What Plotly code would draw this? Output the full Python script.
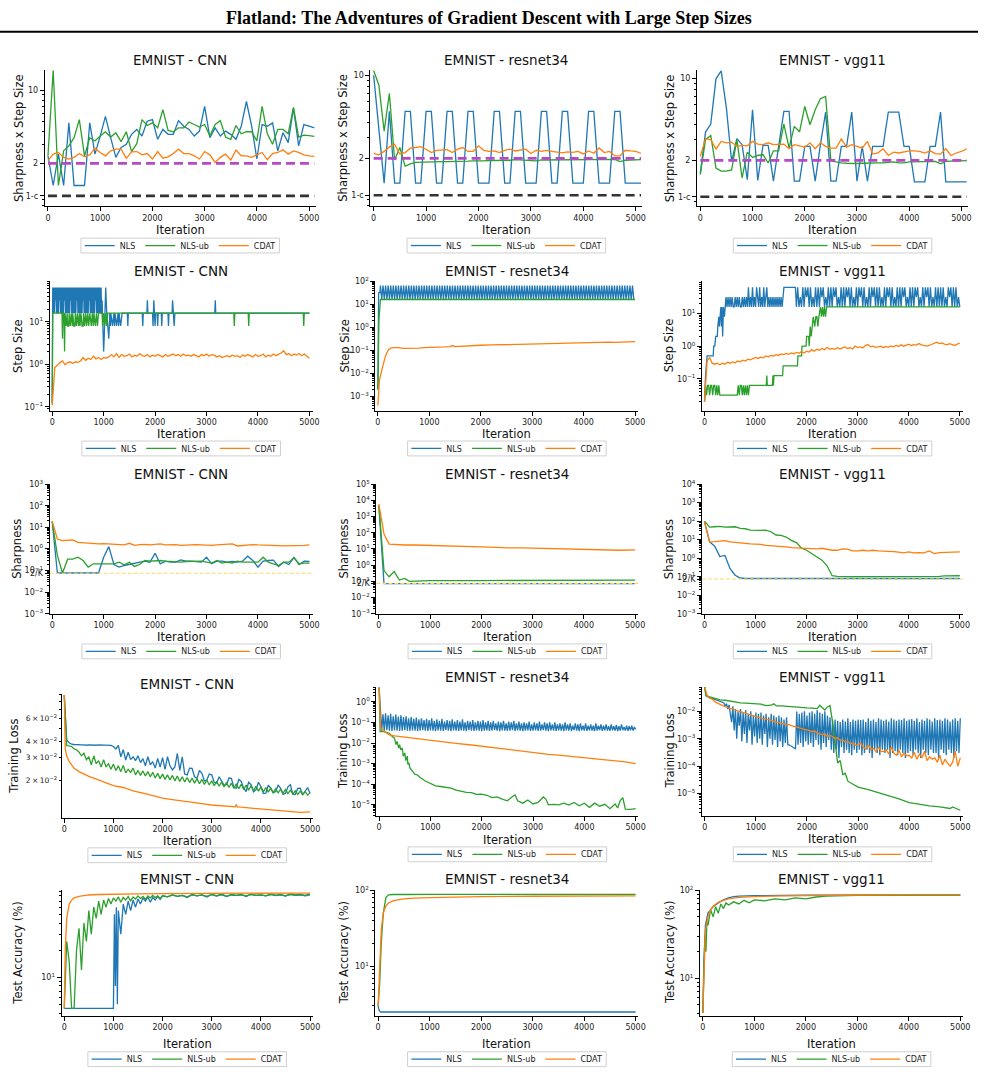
import math
import plotly.graph_objects as go

W, H = 985, 1082
FONT = "DejaVu Sans"
BLUE, GREEN, ORANGE = "#1f77b4", "#2ca02c", "#ff7f0e"
SERIES_NAMES = ["NLS", "NLS-ub", "CDAT"]
SERIES_COLORS = [BLUE, GREEN, ORANGE]
MODELS = ["CNN", "resnet34", "vgg11"]
Y_LABELS = ["Sharpness x Step Size", "Step Size", "Sharpness", "Training Loss", "Test Accuracy (%)"]
X_LABEL = "Iteration"
ITER_TICKS = [0, 1000, 2000, 3000, 4000, 5000]
MAIN_TITLE = "Flatland: The Adventures of Gradient Descent with Large Step Sizes"

ONE_MINUS_C = 0.98
EOS_LEVEL = 2
TWO_OVER_K = 0.075

# ---------------- Row 1: Sharpness x Step Size ----------------
R1_ITER = list(range(0, 5200, 100))
R1_CNN_NLS = [2.36, 1.23, 2.45, 1.23, 4.86, 1.23, 1.23, 1.23, 4.86, 2.45,
              3.64, 5.61, 3.51, 2.28, 2.83, 3.04, 3.78, 4.21, 3.64, 5.04,
              5.22, 3.39, 4.21, 3.78, 3.78, 5.11, 4.52, 4.21, 3.64, 4.06,
              6.97, 3.51, 4.36, 3.64, 4.06, 3.78, 3.39, 4.52, 7.77, 4.52,
              2.2, 4.69, 4.52, 4.86, 2.63, 3.91, 3.15, 6.73, 2.93, 4.69,
              4.52, 4.36]
R1_CNN_NLSUB = [2.36, 15.4, 1.23, 2.63, 2.93, 3.51, 5.22, 2.36, 3.51, 3.27,
                3.64, 4.0, 3.56, 3.91, 3.22, 4.0, 2.59, 3.08, 5.22, 4.59,
                4.86, 4.36, 6.49, 4.12, 4.0, 4.36, 4.36, 4.96, 4.69, 4.43,
                4.69, 3.64, 4.69, 5.11, 3.56, 3.39, 4.59, 3.83, 4.0, 4.0,
                3.27, 6.97, 3.83, 3.04, 4.21, 4.21, 3.83, 6.82, 3.56, 3.72,
                3.67, 3.61]
R1_CNN_CDAT = [2.12, 2.45, 2.54, 2.28, 2.2, 2.28, 2.48, 2.31, 2.41, 2.79,
               2.54, 2.36, 2.63, 2.73, 2.73, 2.23, 2.57, 2.59, 2.41, 2.48,
               2.2, 2.59, 2.24, 2.31, 2.48, 2.73, 2.48, 2.48, 2.36, 2.2,
               2.59, 2.41, 2.04, 2.28, 2.45, 2.15, 2.67, 2.36, 2.36, 2.28,
               2.41, 2.54, 2.17, 2.48, 2.54, 2.69, 2.45, 2.63, 2.54, 2.41,
               2.36, 2.33]
R1_RES_NLS = [10, 3.5, 1.24, 4.97, 1.24, 1.24, 4.97, 4.97, 1.24, 1.24,
              4.97, 4.97, 1.24, 1.24, 4.97, 4.97, 1.24, 1.24, 4.97, 4.97,
              1.24, 1.24, 1.24, 4.97, 4.97, 1.24, 1.24, 4.97, 4.97, 1.24,
              1.24, 1.24, 4.97, 4.97, 1.24, 1.24, 4.97, 4.97, 1.24, 1.24,
              1.24, 4.97, 4.97, 1.24, 1.24, 1.24, 4.97, 4.97, 1.24, 1.24,
              1.24, 1.24]
R1_RES_NLSUB = [11, 8.26, 3.39, 7.04, 1.94, 2.47, 1.72, 1.8, 1.85, 1.86,
                1.87, 1.87, 1.88, 1.88, 1.88, 1.88, 1.89, 1.9, 1.9, 1.91,
                1.9, 1.91, 1.92, 1.92, 1.92, 1.93, 1.93, 1.95, 1.94, 1.95,
                1.93, 1.91, 1.94, 1.94, 1.94, 1.94, 1.94, 1.95, 1.95, 1.94,
                1.95, 1.94, 1.95, 1.95, 1.95, 1.95, 1.96, 1.88, 1.93, 1.94,
                1.95, 1.95]
R1_RES_CDAT = [2.2, 2.14, 2.29, 2.5, 2.63, 2.18, 2.24, 2.44, 2.47, 2.51,
               2.39, 2.24, 2.34, 2.34, 2.37, 2.24, 2.39, 2.47, 2.29, 2.29,
               2.55, 2.34, 2.29, 2.31, 2.24, 2.34, 2.39, 2.31, 2.34, 2.39,
               2.2, 2.34, 2.29, 2.34, 2.29, 2.27, 2.23, 2.27, 2.25, 2.29,
               2.18, 2.31, 2.21, 2.45, 2.24, 2.29, 2.1, 2.1, 2.34, 2.31,
               2.29, 2.21]
R1_VGG_NLS = [1.56, 3.48, 4.07, 9.88, 11.56, 5.57, 1.96, 3.06, 2.72, 1.37,
              5.39, 1.35, 2.68, 2.68, 1.33, 2.68, 5.22, 5.22, 1.33, 1.33,
              2.63, 2.63, 1.33, 2.72, 5.15, 1.33, 1.33, 2.63, 2.63, 5.15,
              1.33, 2.63, 1.33, 2.63, 2.63, 2.63, 5.15, 5.15, 5.15, 2.63,
              2.63, 1.31, 1.31, 1.31, 2.63, 2.63, 5.15, 1.31, 1.31, 1.31,
              1.31, 1.31]
R1_VGG_NLSUB = [1.51, 3.0, 3.26, 1.72, 1.62, 1.62, 1.66, 3.0, 1.42, 2.35,
                2.12, 2.2, 2.24, 1.9, 2.41, 2.41, 4.07, 2.55, 3.89, 3.5,
                5.75, 4.02, 5.39, 6.69, 7.0, 1.99, 1.94, 1.9, 1.89, 1.88,
                1.88, 1.89, 1.9, 1.89, 1.9, 1.9, 1.91, 1.94, 1.9, 1.9,
                1.94, 1.94, 1.95, 1.94, 1.96, 1.96, 1.87, 1.96, 1.97, 1.97,
                1.99, 1.99]
R1_VGG_CDAT = [2.16, 3.06, 3.0, 2.5, 2.9, 2.82, 2.86, 2.63, 2.68, 2.66,
               2.9, 2.75, 2.72, 2.82, 2.72, 2.75, 2.75, 2.51, 2.72, 2.66,
               2.58, 2.82, 2.51, 2.82, 2.63, 2.54, 2.54, 3.04, 2.59, 2.72,
               2.63, 2.54, 2.9, 2.26, 2.31, 2.51, 2.2, 2.35, 2.31, 2.35,
               2.41, 2.41, 2.38, 2.31, 2.41, 2.28, 2.26, 2.51, 2.2, 2.31,
               2.38, 2.5]

# ---------------- Row 2: Step Size ----------------
R2_CNN_NLS_X = list(range(0, 1000, 10)) + [
    1000, 1010, 1020, 1040, 1060, 1080, 1100, 1120, 1130, 1140,
    1170, 1200, 1210, 1220, 1250, 1280, 1290, 1300, 1330, 1360,
    1460, 1470, 1480, 1750, 1760, 1770, 1840, 1850, 1860, 1950,
    1960, 1975, 1990, 2000, 2010, 2040, 2050, 2060, 2120, 2130,
    2140, 2250, 2260, 2270, 2330, 2340, 2355, 2370, 2385, 3160,
    3170, 3180, 5000]
R2_CNN_NLS_Y = [
    0.125, 64, 16, 64, 16, 64, 32, 64, 16, 64,
    16, 64, 16, 64, 32, 64, 16, 64, 16, 64,
    16, 64, 16, 64, 32, 64, 16, 64, 16, 64,
    16, 64, 16, 64, 16, 64, 32, 64, 16, 64,
    16, 64, 16, 64, 16, 64, 16, 64, 32, 64,
    16, 64, 16, 64, 16, 64, 16, 64, 16, 64,
    32, 64, 16, 64, 16, 64, 16, 64, 16, 64,
    16, 64, 32, 64, 16, 64, 16, 64, 16, 64,
    16, 64, 16, 64, 32, 64, 16, 64, 16, 64,
    16, 64, 16, 64, 16, 64, 16, 32, 16, 8,
    2, 4, 16, 64, 16, 8, 4, 16, 8, 16,
    8, 16, 8, 16, 8, 16, 8, 16, 8, 16,
    16, 8, 16, 16, 8, 16, 16, 32, 16, 16,
    8, 32, 8, 8, 16, 16, 8, 16, 16, 8,
    16, 16, 8, 16, 16, 32, 16, 8, 16, 16,
    32, 16, 16]
R2_CNN_NLSUB_X = [0, 10, 190, 200, 210, 230, 240, 250, 270, 290,
                  300, 320, 330, 350, 370, 390, 400, 420, 440, 450,
                  470, 490, 510, 530, 540, 560, 580, 600, 610, 630,
                  650, 670, 690, 710, 730, 760, 780, 800, 810, 840,
                  860, 880, 900, 970, 980, 1000, 1020, 1040, 1060, 1080,
                  1100, 3530, 3540, 3550, 3810, 3820, 3830, 4880, 4890, 4900,
                  5000]
R2_CNN_NLSUB_Y = [0.12, 16, 16, 4, 16, 16, 2, 16, 8, 16,
                  8, 8, 16, 8, 16, 8, 16, 8, 8, 16,
                  8, 16, 8, 16, 8, 16, 8, 8, 16, 8,
                  16, 8, 16, 8, 16, 8, 16, 8, 16, 8,
                  16, 8, 16, 16, 8, 16, 8, 16, 8, 16,
                  16, 16, 8, 16, 16, 8, 16, 16, 8, 16,
                  16]
R2_ITER50 = list(range(0, 5001, 50))
R2_CNN_CDAT = [0.11, 0.85, 0.95, 1.1, 1.2, 0.98, 1.1, 1.15, 1.05, 1.15,
               1.12, 1.2, 1.45, 1.25, 1.4, 1.3, 1.55, 1.35, 1.45, 1.3,
               1.45, 1.4, 1.5, 1.7, 1.5, 1.8, 1.45, 1.7, 1.55, 1.6,
               1.75, 1.5, 1.65, 1.55, 1.8, 1.6, 1.55, 1.7, 1.5, 1.65,
               1.55, 1.7, 1.6, 1.5, 1.7, 1.55, 1.65, 1.75, 1.6, 1.7,
               1.55, 1.75, 1.6, 1.65, 1.55, 1.7, 1.6, 1.5, 1.7, 1.6,
               1.75, 1.55, 1.7, 1.65, 1.5, 1.6, 1.45, 1.55, 1.6, 1.5,
               1.65, 1.55, 1.6, 1.45, 1.65, 1.55, 1.7, 1.6, 1.5, 1.7,
               1.55, 1.6, 1.75, 1.5, 1.65, 1.55, 1.75, 1.6, 1.7, 1.85,
               2.1, 1.7, 1.8, 1.6, 1.75, 1.65, 1.8, 1.6, 1.75, 1.55,
               1.4]
R2_RES_NLS_X = [0, 15, 40] + list(range(50, 5000, 25))
R2_RES_NLS_Y = [0.002, 32, 32,
                64, 16, 64, 16, 64, 16, 64, 16, 64, 16, 64, 16, 64, 16, 64, 16, 64, 16,
                64, 16, 64, 16, 64, 16, 64, 16, 64, 16, 64, 16, 64, 16, 64, 16, 64, 16,
                64, 16, 64, 16, 64, 16, 64, 16, 64, 16, 64, 16, 64, 16, 64, 16, 64, 16,
                64, 16, 64, 16, 64, 16, 64, 16, 64, 16, 64, 16, 64, 16, 64, 16, 64, 16,
                64, 16, 64, 16, 64, 16, 64, 16, 64, 16, 64, 16, 64, 16, 64, 16, 64, 16,
                64, 16, 64, 16, 64, 16, 64, 16, 64, 16, 64, 16, 64, 16, 64, 16, 64, 16,
                64, 16, 64, 16, 64, 16, 64, 16, 64, 16, 64, 16, 64, 16, 64, 16, 64, 16,
                64, 16, 64, 16, 64, 16, 64, 16, 64, 16, 64, 16, 64, 16, 64, 16, 64, 16,
                64, 16, 64, 16, 64, 16, 64, 16, 64, 16, 64, 16, 64, 16, 64, 16, 64, 16,
                64, 16, 64, 16, 64, 16, 64, 16, 64, 16, 64, 16, 64, 16, 64, 16, 64, 16,
                64, 16, 64, 16, 64, 16, 64, 16, 64, 16, 64, 16, 64, 16, 64, 16, 64, 16]
R2_RES_NLSUB_X = [0, 20, 50, 5000]
R2_RES_NLSUB_Y = [0.002, 2, 16, 16]
R2_RES_CDAT_X = [0, 10, 30, 60, 100, 150, 200, 250, 300, 400,
                 500, 600, 700, 800, 900, 1000, 1100, 1200, 1300, 1400,
                 1450, 1500, 1600, 1700, 1800, 1900, 2000, 2200, 2400, 2600,
                 2800, 3000, 3200, 3400, 3600, 3800, 4000, 4200, 4400, 4500,
                 4600, 4800, 5000]
R2_RES_CDAT_Y = [0.0004, 0.002, 0.005, 0.01, 0.025, 0.06, 0.1, 0.125, 0.13, 0.13,
                 0.12, 0.12, 0.125, 0.125, 0.13, 0.13, 0.135, 0.14, 0.14, 0.145,
                 0.16, 0.145, 0.15, 0.155, 0.16, 0.16, 0.165, 0.17, 0.175, 0.18,
                 0.185, 0.19, 0.195, 0.2, 0.2, 0.205, 0.21, 0.215, 0.22, 0.225,
                 0.22, 0.23, 0.235]
R2_VGG_NLS_X = ([0, 20, 50, 170, 180, 200, 220, 250, 260, 280,
                 290, 300, 320, 330, 340, 355, 370, 390, 400, 420,
                 440, 460] + list(range(480, 1560, 20)) + [1555, 1780]
                + list(range(1800, 5001, 25)))
R2_VGG_NLS_Y = [0.02, 0.125, 0.5, 0.5, 1, 1, 2, 2, 4, 8,
                4, 8, 16, 4, 16, 2, 16, 8, 16, 32,
                16, 32,
                16, 32, 16, 32, 16, 16, 32, 16, 32, 16,
                32, 16, 16, 32, 16, 32, 16, 32, 16, 64,
                16, 32, 16, 64, 16, 32, 16, 64, 32, 16,
                64, 16, 32, 16, 64, 16, 32, 64, 16, 32,
                16, 32, 16, 32, 16, 32, 16, 32, 16, 32,
                16, 32, 16, 32,
                64, 64,
                16,
                64, 16, 32, 16, 64, 16, 64, 32, 64, 16, 64, 16, 32, 16, 64, 16,
                64, 16, 64, 32, 64, 16, 32, 16, 64, 16, 64, 16, 64, 32, 64, 16,
                32, 16, 64, 16, 64, 16, 64, 32, 64, 16, 64, 16, 32, 16, 64, 16,
                64, 32, 64, 16, 64, 16, 32, 16, 64, 16, 64, 32, 64, 16, 64, 16,
                64, 16, 32, 16, 64, 16, 64, 32, 64, 16, 64, 16, 32, 16, 64, 16,
                64, 16, 64, 32, 64, 16, 32, 16, 64, 16, 64, 16, 64, 32, 64, 16,
                32, 16, 64, 16, 64, 32, 64, 16, 64, 16, 32, 16, 64, 16, 64, 16,
                64, 16, 64, 16, 32, 16, 64, 32, 64, 16, 64, 16, 64, 16, 32, 16]
R2_VGG_NLSUB_X = [0, 20, 40, 60, 80, 100, 120, 140, 160, 180,
                  200, 220, 240, 260, 280, 300, 350, 640, 660, 680,
                  700, 720, 740, 760, 780, 800, 820, 840, 860, 880,
                  1210, 1220, 1230, 1330, 1340, 1350, 1360, 1530, 1540, 1820,
                  1830, 1900, 1910, 1990, 2000, 2040, 2050, 2060, 2070, 2090,
                  2110, 2130, 2160, 2180, 2200, 2220, 2240, 2270, 2290, 2310,
                  2330, 2350, 2370, 2390, 5000]
R2_VGG_NLSUB_Y = [0.02, 0.0625, 0.03125, 0.0625, 0.0625, 0.03125, 0.0625, 0.0625, 0.03125, 0.0625,
                  0.0625, 0.03125, 0.0625, 0.03125, 0.0625, 0.03125, 0.03125, 0.03125, 0.0625, 0.03125,
                  0.0625, 0.0625, 0.03125, 0.0625, 0.03125, 0.0625, 0.03125, 0.0625, 0.03125, 0.0625,
                  0.0625, 0.125, 0.0625, 0.0625, 0.125, 0.0625, 0.125, 0.125, 0.25, 0.25,
                  0.5, 0.5, 1, 1, 2, 2, 1, 2, 4, 2,
                  4, 8, 4, 8, 8, 4, 8, 16, 8, 16,
                  8, 16, 8, 16, 16]
R2_VGG_CDAT = [0.02, 0.35, 0.45, 0.3, 0.28, 0.3, 0.27, 0.3, 0.28, 0.32,
               0.3, 0.33, 0.31, 0.35, 0.33, 0.37, 0.35, 0.4, 0.38, 0.42,
               0.45, 0.42, 0.46, 0.44, 0.5, 0.47, 0.52, 0.5, 0.55, 0.52,
               0.58, 0.55, 0.6, 0.56, 0.62, 0.58, 0.64, 0.6, 0.68, 0.62,
               0.7, 0.66, 0.78, 0.7, 0.8, 0.75, 0.85, 0.78, 0.92, 0.8,
               0.85, 0.8, 0.9, 0.82, 0.88, 0.95, 0.85, 0.9, 0.82, 1.0,
               0.9, 0.95, 0.88, 1.05, 1.12, 0.95, 1.0, 0.92, 0.95, 1.0,
               0.9, 0.98, 0.92, 1.02, 0.95, 1.05, 0.98, 1.1, 1.0, 1.08,
               1.15, 1.05, 1.12, 1.08, 1.2, 1.1, 1.05, 1.0, 1.05, 1.15,
               1.25, 1.32, 1.2, 1.25, 1.15, 1.1, 1.2, 1.1, 1.05, 1.15,
               1.25]

# ---------------- Row 3: Sharpness ----------------
R3_ITER = list(range(0, 5001, 100))
R3_CNN_NLS = [18.9, 0.077, 0.077, 0.077, 0.077, 0.077, 0.077, 0.077, 0.077, 0.077,
              0.41, 1.28, 0.19, 0.144, 0.171, 0.19, 0.205, 0.244, 0.271, 0.244,
              0.63, 0.205, 0.271, 0.244, 0.244, 0.312, 0.271, 0.271, 0.262, 0.244,
              0.41, 0.205, 0.271, 0.271, 0.244, 0.262, 0.244, 0.271, 0.46, 0.291,
              0.144, 0.271, 0.291, 0.302, 0.154, 0.244, 0.19, 0.41, 0.19, 0.271,
              0.262]
R3_CNN_NLSUB = [18.9, 0.5, 0.077, 0.335, 0.335, 0.414, 0.291, 0.144, 0.205, 0.205,
                0.205, 0.22, 0.205, 0.244, 0.184, 0.244, 0.154, 0.19, 0.291, 0.271,
                0.291, 0.291, 0.271, 0.262, 0.244, 0.244, 0.262, 0.271, 0.262, 0.271,
                0.244, 0.22, 0.291, 0.22, 0.244, 0.22, 0.271, 0.244, 0.244, 0.244,
                0.244, 0.414, 0.244, 0.205, 0.171, 0.244, 0.244, 0.386, 0.205, 0.22,
                0.22]
R3_CNN_CDAT = [18.9, 2.88, 2.41, 2.41, 2.59, 2.02, 1.95, 1.82, 1.7, 1.7,
               1.76, 1.7, 1.64, 1.58, 1.53, 1.82, 1.47, 1.58, 1.64, 1.53,
               1.64, 1.7, 1.53, 1.58, 1.58, 1.47, 1.53, 1.53, 1.58, 1.53,
               1.47, 1.47, 1.53, 1.58, 1.53, 1.7, 1.37, 1.47, 1.53, 1.58,
               1.53, 1.53, 1.47, 1.42, 1.42, 1.37, 1.37, 1.42, 1.37, 1.47,
               1.53]
R3_RES_NLS_X = [0, 100, 5000]
R3_RES_NLS_Y = [4600, 0.072, 0.072]
R3_RES_NLSUB_X = [0, 100, 200, 300, 400, 500, 600, 700, 800, 1000, 2000, 3000, 4000, 5000]
R3_RES_NLSUB_Y = [5000, 0.46, 0.19, 0.4, 0.12, 0.15, 0.1, 0.105, 0.11, 0.11, 0.112, 0.115, 0.115, 0.118]
R3_RES_CDAT_X = [0, 100, 200, 300, 500, 700, 1000, 1200, 1500, 1800,
                 2000, 2300, 2500, 2800, 3000, 3300, 3500, 3800, 4000, 4300,
                 4500, 4700, 5000]
R3_RES_CDAT_Y = [5800, 84, 20, 18.5, 17.5, 17.5, 16.8, 16, 14.6, 14.6,
                 13.3, 12.5, 11.5, 11.5, 11, 10.5, 10, 10, 9.5, 9.1,
                 8.7, 8.3, 8.7]
R3_VGG_NLS_X = [0, 100, 200, 300, 400, 500, 600, 700, 800, 5000]
R3_VGG_NLS_Y = [92, 7.5, 4.4, 1.23, 1.4, 0.27, 0.12, 0.085, 0.08, 0.08]
R3_VGG_NLSUB = [100, 47.7, 49.7, 51.8, 47.7, 47.7, 49.7, 40.5, 38.8, 33,
                31.6, 31.6, 33, 26.8, 17.8, 17.1, 13.9, 9.2, 6.9, 3.43,
                2.68, 1.78, 1.18, 0.78, 0.39, 0.113,
                0.104, 0.1, 0.1, 0.1, 0.1, 0.1, 0.1, 0.1, 0.1, 0.1,
                0.1, 0.1, 0.1, 0.105, 0.1, 0.1, 0.105, 0.1, 0.1, 0.1,
                0.105, 0.11, 0.11, 0.11, 0.113]
R3_VGG_CDAT = [92, 7.5, 7.8, 8.14, 8.84, 7.5, 7.2, 7.2, 6.37, 5.87,
               5.87, 5.63, 4.97, 4.77, 4.77, 4.4, 4.05, 3.73, 3.58, 3.43,
               3.43, 3.05, 3.17, 3.43, 3.05, 2.68, 2.68, 3.17, 3.05, 2.47,
               2.47, 2.68, 2.47, 2.68, 2.47, 2.47, 2.47, 2.28, 2.1, 1.94,
               2.19, 1.94, 2.01, 1.94, 2.47, 1.78, 2.01, 2.1, 2.1, 2.1,
               2.19]

# ---------------- Row 4: Training Loss ----------------
R4_ITER50 = list(range(0, 5001, 50))
R4_ITER25 = list(range(0, 5001, 25))
R4_CNN_NLS = [0.09, 0.041, 0.039, 0.038, 0.0378, 0.0376, 0.0374, 0.0376, 0.0375, 0.0373,
              0.0376, 0.0374, 0.0375, 0.0373, 0.0375, 0.0374, 0.0376, 0.0373, 0.0374, 0.0372,
              0.0365, 0.035, 0.0372, 0.0305, 0.0345, 0.0288, 0.033, 0.029, 0.0305, 0.0285,
              0.031, 0.0275, 0.0295, 0.026, 0.0305, 0.0265, 0.028, 0.025, 0.0296, 0.0255,
              0.03, 0.0245, 0.0305, 0.026, 0.0242, 0.0255, 0.0323, 0.024, 0.0305, 0.0225,
              0.0222, 0.025, 0.0249, 0.0215, 0.0209, 0.024, 0.0228, 0.02, 0.0203, 0.0225,
              0.0222, 0.0195, 0.0192, 0.0215, 0.02, 0.0185, 0.0187, 0.021, 0.0209, 0.0178,
              0.0176, 0.0205, 0.0198, 0.0175, 0.0166, 0.0195, 0.0187, 0.0165, 0.0171, 0.0195,
              0.0181, 0.016, 0.0161, 0.0185, 0.0176, 0.0162, 0.0166, 0.0185, 0.0176, 0.0158,
              0.0161, 0.018, 0.0187, 0.0158, 0.0158, 0.0175, 0.0176, 0.0157, 0.0166, 0.0178,
              0.0161]
R4_CNN_NLSUB = [0.09, 0.037, 0.0369, 0.0365, 0.035, 0.0345, 0.033, 0.031, 0.0325, 0.029,
                0.0305, 0.0265, 0.031, 0.027, 0.0285, 0.0255, 0.029, 0.0255, 0.027, 0.0245,
                0.0268, 0.024, 0.026, 0.0235, 0.0262, 0.023, 0.0245, 0.0232, 0.025, 0.0222,
                0.024, 0.022, 0.0238, 0.0218, 0.0235, 0.0215, 0.0232, 0.021, 0.0228, 0.0208,
                0.0225, 0.0205, 0.0222, 0.0203, 0.022, 0.02, 0.0218, 0.0198, 0.0215, 0.0196,
                0.0212, 0.0194, 0.021, 0.0192, 0.0208, 0.019, 0.0205, 0.0188, 0.0203, 0.0186,
                0.02, 0.0184, 0.0198, 0.0182, 0.0196, 0.018, 0.0194, 0.0178, 0.0192, 0.0176,
                0.019, 0.0174, 0.0188, 0.0172, 0.0186, 0.017, 0.0184, 0.0168, 0.0182, 0.0167,
                0.018, 0.0165, 0.0178, 0.0164, 0.0176, 0.0163, 0.0174, 0.0162, 0.0173, 0.0161,
                0.0172, 0.016, 0.017, 0.0159, 0.0168, 0.0158, 0.0167, 0.0157, 0.0166, 0.0156,
                0.0162]
R4_CNN_CDAT_X = [0, 20, 50, 100, 150, 200, 300, 400, 500, 600,
                 700, 800, 900, 1000, 1200, 1400, 1600, 1800, 2000, 2200,
                 2400, 2600, 2800, 3000, 3200, 3400, 3480, 3500, 3520, 3600,
                 3800, 4000, 4200, 4400, 4600, 4800, 5000]
R4_CNN_CDAT_Y = [0.09, 0.035, 0.031, 0.028, 0.0265, 0.0249, 0.0235, 0.0225, 0.0216, 0.021,
                 0.0203, 0.0197, 0.019, 0.0184, 0.0178, 0.0168, 0.0161, 0.0154, 0.0148, 0.0144,
                 0.014, 0.0137, 0.0134, 0.0131, 0.013, 0.0128, 0.0127, 0.0132, 0.0127, 0.0126,
                 0.0124, 0.0123, 0.0121, 0.0119, 0.0117, 0.0115, 0.0116]
R4_RES_NLS = [5,
              0.3, 0.04, 0.25, 0.038, 0.28, 0.042, 0.22, 0.04, 0.26, 0.039, 0.2, 0.041, 0.24, 0.04, 0.19, 0.038, 0.22, 0.04, 0.18, 0.042,
              0.2, 0.04, 0.16, 0.039, 0.18, 0.041, 0.15, 0.04, 0.17, 0.038, 0.14, 0.04, 0.16, 0.042, 0.13, 0.04, 0.15, 0.039, 0.13, 0.041,
              0.16, 0.04, 0.12, 0.038, 0.14, 0.041, 0.12, 0.04, 0.15, 0.039, 0.11, 0.042, 0.13, 0.04, 0.12, 0.038, 0.14, 0.041, 0.11, 0.04,
              0.13, 0.039, 0.11, 0.041, 0.14, 0.04, 0.1, 0.038, 0.12, 0.042, 0.11, 0.04, 0.13, 0.039, 0.1, 0.041, 0.12, 0.04, 0.11, 0.038,
              0.13, 0.04, 0.1, 0.041, 0.12, 0.039, 0.1, 0.04, 0.12, 0.042, 0.09, 0.04, 0.11, 0.038, 0.1, 0.041, 0.12, 0.04, 0.09, 0.039,
              0.11, 0.04, 0.1, 0.042, 0.12, 0.039, 0.09, 0.041, 0.11, 0.04, 0.09, 0.038, 0.1, 0.04, 0.09, 0.041, 0.11, 0.039, 0.08, 0.04,
              0.1, 0.041, 0.09, 0.039, 0.11, 0.04, 0.08, 0.042, 0.1, 0.04, 0.09, 0.038, 0.1, 0.041, 0.08, 0.04, 0.1, 0.039, 0.08, 0.041,
              0.09, 0.04, 0.08, 0.038, 0.1, 0.041, 0.08, 0.04, 0.09, 0.039, 0.07, 0.042, 0.09, 0.04, 0.08, 0.038, 0.09, 0.041, 0.07, 0.04,
              0.09, 0.039, 0.07, 0.041, 0.08, 0.04, 0.07, 0.038, 0.09, 0.04, 0.07, 0.042, 0.08, 0.039, 0.07, 0.041, 0.08, 0.04, 0.065, 0.039,
              0.08, 0.041, 0.065, 0.04, 0.075, 0.038, 0.065, 0.04, 0.08, 0.042, 0.06, 0.04, 0.07, 0.039, 0.065, 0.041, 0.07, 0.04, 0.06, 0.045]
R4_RES_NLSUB_X = [0, 20, 100, 200, 250, 300, 330, 350, 380, 400,
                  420, 450, 470, 500, 520, 550, 560, 580, 600, 650,
                  700, 750, 800, 900, 1000, 1100, 1200, 1300, 1400, 1500,
                  1600, 1700, 1800, 1900, 2000, 2100, 2200, 2300, 2400, 2500,
                  2600, 2650, 2700, 2800, 2900, 3000, 3100, 3200, 3250, 3300,
                  3400, 3500, 3600, 3700, 3800, 3900, 4000, 4100, 4200, 4300,
                  4400, 4500, 4600, 4650, 4700, 4750, 4800, 4900, 5000]
R4_RES_NLSUB_Y = [5, 0.036, 0.036, 0.03, 0.021, 0.0173, 0.0083, 0.0119, 0.0057, 0.0083,
                  0.0047, 0.0057, 0.0023, 0.0033, 0.0014, 0.0023, 0.0009, 0.0011, 0.00062, 0.00043,
                  0.0003, 0.00028, 0.00021, 0.000143, 0.000106, 8.2e-5, 7.7e-5, 6.8e-5, 6.5e-5, 5.1e-5,
                  4.4e-5, 4e-5, 3.9e-5, 3.2e-5, 3.3e-5, 2.9e-5, 2.25e-5, 2.4e-5, 1.9e-5, 1.56e-5,
                  2.5e-5, 3e-5, 1.56e-5, 1.2e-5, 1.7e-5, 1.1e-5, 1.3e-5, 2.4e-5, 1.9e-5, 1.0e-5,
                  1.05e-5, 1.0e-5, 1.2e-5, 9.6e-6, 1.3e-5, 9e-6, 1.2e-5, 7.5e-6, 1.2e-5, 8.5e-6,
                  1.05e-5, 6.5e-6, 1.1e-5, 7e-6, 1.6e-5, 2.2e-5, 6.2e-6, 6e-6, 6.5e-6]
R4_RES_CDAT_X = [0, 30, 100, 200, 300, 500, 700, 1000, 1200, 1500,
                 1800, 2000, 2200, 2500, 2800, 3000, 3300, 3500, 3800, 4000,
                 4300, 4500, 4800, 5000]
R4_RES_CDAT_Y = [5, 0.052, 0.036, 0.025, 0.022, 0.019, 0.016, 0.013, 0.0115, 0.0096,
                 0.008, 0.0069, 0.006, 0.0048, 0.0039, 0.0033, 0.0028, 0.0026, 0.0022, 0.0019,
                 0.0016, 0.0014, 0.0012, 0.001]
R4_VGG_NLS = [0.075,
              0.036, 0.034, 0.032, 0.031, 0.03, 0.029, 0.028, 0.027, 0.026, 0.025, 0.024, 0.023, 0.022, 0.021, 0.02, 0.015, 0.019, 0.012, 0.017, 0.008,
              0.004, 0.015, 0.002, 0.012, 0.001, 0.01, 0.003, 0.012, 0.0008, 0.009, 0.0015, 0.011, 0.0007, 0.008, 0.002, 0.01, 0.0006, 0.007, 0.0012, 0.009,
              0.0007, 0.008, 0.001, 0.009, 0.0006, 0.007, 0.0015, 0.008, 0.0005, 0.006, 0.001, 0.008, 0.0006, 0.007, 0.0009, 0.006, 0.0005, 0.007, 0.0008, 0.006,
              0.0005, 0.005, 0.0007, 0.006, 0.0006, 0.0006, 0.00057, 0.00054, 0.0005, 0.00046, 0.00042, 0.0098, 0.0006, 0.008, 0.0007, 0.009, 0.0005, 0.01, 0.0008, 0.007,
              0.0006, 0.009, 0.0007, 0.01, 0.0005, 0.008, 0.0009, 0.011, 0.0006, 0.009, 0.0004, 0.008, 0.0007, 0.01, 0.0005, 0.007, 0.0009, 0.006, 0.0004, 0.005,
              0.0003, 0.005, 0.0004, 0.0045, 0.0002, 0.004, 0.0005, 0.005, 0.0003, 0.0042, 0.0004, 0.0055, 0.0003, 0.004, 0.00025, 0.005, 0.0004, 0.0045, 0.0003, 0.005,
              0.0004, 0.0048, 0.00025, 0.005, 0.0003, 0.004, 0.0004, 0.0055, 0.0003, 0.0045, 0.0002, 0.005, 0.0004, 0.004, 0.0003, 0.0055, 0.00025, 0.005, 0.0004, 0.0045,
              0.0003, 0.005, 0.0004, 0.0042, 0.0002, 0.0055, 0.0003, 0.005, 0.00035, 0.0045, 0.00025, 0.005, 0.0004, 0.0048, 0.0003, 0.0055, 0.0002, 0.0045, 0.0003, 0.005,
              0.00035, 0.0052, 0.00025, 0.0045, 0.0004, 0.0055, 0.0003, 0.004, 0.0002, 0.005, 0.0004, 0.0045, 0.0003, 0.0055, 0.00025, 0.005, 0.0004, 0.0042, 0.0003, 0.0055,
              0.0003, 0.0048, 0.0002, 0.005, 0.0004, 0.0045, 0.0003, 0.0055, 0.00025, 0.005, 0.0004, 0.0042, 0.0003, 0.005, 0.0002, 0.0055, 0.00035, 0.0045, 0.0003, 0.0055]
R4_VGG_NLSUB_X = [0, 20, 100, 200, 300, 400, 500, 600, 700, 800,
                  900, 1000, 1100, 1200, 1300, 1350, 1400, 1500, 1600, 1700,
                  1800, 1900, 2000, 2100, 2200, 2250, 2300, 2350, 2400, 2450,
                  2500, 2550, 2600, 2650, 2700, 2750, 2800, 2900, 3000, 3200,
                  3400, 3600, 3800, 4000, 4200, 4400, 4600, 4700, 4800, 4850,
                  4900, 5000]
R4_VGG_NLSUB_Y = [0.075, 0.0377, 0.033, 0.0286, 0.026, 0.025, 0.0229, 0.022, 0.02, 0.0195,
                  0.0189, 0.0189, 0.018, 0.016, 0.0165, 0.0185, 0.0156, 0.0156, 0.015, 0.0145,
                  0.0135, 0.0132, 0.0132, 0.013, 0.0125, 0.0164, 0.0128, 0.011, 0.0143, 0.016,
                  0.0041, 0.0008, 0.00013, 0.00016, 0.00005, 0.000055, 0.0000285, 0.000022, 0.0000173, 0.000014,
                  0.000011, 0.0000082, 0.0000065, 0.0000047, 0.000004, 0.0000036, 0.0000033, 0.000003, 0.0000029, 0.0000033,
                  0.000003, 0.0000025]
R4_VGG_CDAT = [0.075, 0.035, 0.03, 0.027, 0.0217, 0.02, 0.0175, 0.016, 0.0145, 0.0135,
               0.0125, 0.0115, 0.0105, 0.0098, 0.0092, 0.0085, 0.008, 0.0074, 0.007, 0.0066,
               0.0063, 0.006, 0.0056, 0.0053, 0.005, 0.0049, 0.0045, 0.0043, 0.004, 0.0039,
               0.0036, 0.0035, 0.0032, 0.0033, 0.0029, 0.0028, 0.0026, 0.0025, 0.0023, 0.0022,
               0.0021, 0.002, 0.0018, 0.0019, 0.0016, 0.0015, 0.0014, 0.0015, 0.0012, 0.0013,
               0.0012, 0.001, 0.0011, 0.00085, 0.0009, 0.00075, 0.0008, 0.00065, 0.0007, 0.00058,
               0.0006, 0.0007, 0.0005, 0.00042, 0.0006, 0.0004, 0.00045, 0.00033, 0.0005, 0.00035,
               0.00034, 0.0004, 0.00028, 0.0005, 0.0003, 0.00025, 0.00038, 0.00022, 0.0003, 0.00024,
               0.00025, 0.0002, 0.00032, 0.00018, 0.00028, 0.0002, 0.00035, 0.00016, 0.00022, 0.00018,
               0.0002, 0.00014, 0.00025, 0.00011, 0.00018, 0.00013, 0.0001, 0.00014, 0.00035, 0.0001,
               0.0002]

# ---------------- Row 5: Test Accuracy ----------------
R5_CNN_NLS_X = [0, 1000, 1020, 1040, 1060, 1080, 1100] + list(range(1150, 2001, 50)) + list(range(2100, 5001, 100))
R5_CNN_NLS_Y = [4.5, 4.5, 50, 8, 60, 5, 55,
                30, 65, 50, 70, 55, 72, 60, 74, 65, 76, 70, 78, 68, 77, 72, 79, 73, 80,
                78, 82, 79, 81, 77, 83, 80, 82, 78, 83, 80, 84, 79, 82, 81,
                83, 79, 84, 81, 82, 80, 84, 81, 83, 80, 84, 82, 83, 81, 84]
R5_CNN_NLSUB_X = list(range(0, 2001, 50)) + list(range(2100, 5001, 100))
R5_CNN_NLSUB_Y = [4.5, 25, 15, 4.5, 4.5, 20, 35, 12, 40, 25,
                  55, 30, 60, 45, 70, 50, 72, 60, 75, 65,
                  76, 70, 78, 68, 77, 72, 79, 70, 78, 74,
                  80, 75, 79, 73, 80, 76, 81, 77, 80, 75,
                  81,
                  78, 82, 79, 81, 78, 82, 80, 82, 79, 83,
                  80, 82, 79, 83, 81, 82, 80, 83, 81, 82,
                  80, 83, 81, 82, 80, 83, 81, 82, 80, 82]
R5_CNN_CDAT_X = [0, 20, 50, 100, 150, 200, 300, 400, 500, 700, 1000, 1500, 2000, 2500, 3000, 3500, 4000, 4500, 5000]
R5_CNN_CDAT_Y = [4.5, 20, 45, 65, 72, 76, 79, 81, 82, 83, 84, 84.5, 85, 85.5, 85.5, 86, 86, 86, 86]
R5_RES_NLS_X = [0, 20, 50, 5000]
R5_RES_NLS_Y = [3, 2.6, 2.5, 2.5]
R5_RES_NLSUB_X = [0, 30, 60, 100, 150, 200, 300, 400, 500, 1000, 2000, 3000, 4000, 5000]
R5_RES_NLSUB_Y = [3, 6, 20, 50, 80, 87, 88, 88.5, 88, 88.5, 88.5, 88.5, 88.5, 88.5]
R5_RES_CDAT_X = [0, 30, 60, 100, 150, 200, 300, 500, 700, 1000, 1500, 2000, 3000, 4000, 5000]
R5_RES_CDAT_Y = [3, 10, 30, 50, 62, 68, 73, 77, 79, 80, 81.5, 82.5, 83.5, 84, 84.5]
R5_VGG_NLS_X = [0, 20, 50, 100, 150, 200, 300, 400, 500, 600, 700, 1000, 2000, 3000, 4000, 5000]
R5_VGG_NLS_Y = [4, 15, 40, 55, 60, 65, 72, 78, 82, 85, 86, 87, 88, 88.5, 88.5, 88.5]
R5_VGG_NLSUB_X = [0, 20, 40, 60, 80, 100, 150, 200, 250, 300, 350, 400, 450, 500, 600, 700, 800, 900, 1000,
                  1200, 1400, 1600, 1800, 2000, 2200, 2400, 3000, 4000, 5000]
R5_VGG_NLSUB_Y = [4, 10, 30, 20, 45, 40, 60, 50, 65, 55, 70, 62, 72, 68, 74, 70, 77, 72, 78,
                  76, 80, 78, 82, 80, 84, 86, 88, 88.5, 88.5]
R5_VGG_CDAT_X = [0, 20, 50, 100, 150, 200, 300, 400, 500, 700, 1000, 1500, 2000, 3000, 4000, 5000]
R5_VGG_CDAT_Y = [4, 12, 35, 50, 60, 66, 73, 77, 80, 83, 85, 86.5, 87.5, 88.5, 89, 89]

# ---------------- Panel specs ----------------
SERIES = [
    [[(R1_ITER, R1_CNN_NLS), (R1_ITER, R1_CNN_NLSUB), (R1_ITER, R1_CNN_CDAT)],
     [(R1_ITER, R1_RES_NLS), (R1_ITER, R1_RES_NLSUB), (R1_ITER, R1_RES_CDAT)],
     [(R1_ITER, R1_VGG_NLS), (R1_ITER, R1_VGG_NLSUB), (R1_ITER, R1_VGG_CDAT)]],
    [[(R2_CNN_NLS_X, R2_CNN_NLS_Y), (R2_CNN_NLSUB_X, R2_CNN_NLSUB_Y), (R2_ITER50, R2_CNN_CDAT)],
     [(R2_RES_NLS_X, R2_RES_NLS_Y), (R2_RES_NLSUB_X, R2_RES_NLSUB_Y), (R2_RES_CDAT_X, R2_RES_CDAT_Y)],
     [(R2_VGG_NLS_X, R2_VGG_NLS_Y), (R2_VGG_NLSUB_X, R2_VGG_NLSUB_Y), (R2_ITER50, R2_VGG_CDAT)]],
    [[(R3_ITER, R3_CNN_NLS), (R3_ITER, R3_CNN_NLSUB), (R3_ITER, R3_CNN_CDAT)],
     [(R3_RES_NLS_X, R3_RES_NLS_Y), (R3_RES_NLSUB_X, R3_RES_NLSUB_Y), (R3_RES_CDAT_X, R3_RES_CDAT_Y)],
     [(R3_VGG_NLS_X, R3_VGG_NLS_Y), (R3_ITER, R3_VGG_NLSUB), (R3_ITER, R3_VGG_CDAT)]],
    [[(R4_ITER50, R4_CNN_NLS), (R4_ITER50, R4_CNN_NLSUB), (R4_CNN_CDAT_X, R4_CNN_CDAT_Y)],
     [(R4_ITER25, R4_RES_NLS), (R4_RES_NLSUB_X, R4_RES_NLSUB_Y), (R4_RES_CDAT_X, R4_RES_CDAT_Y)],
     [(R4_ITER25, R4_VGG_NLS), (R4_VGG_NLSUB_X, R4_VGG_NLSUB_Y), (R4_ITER50, R4_VGG_CDAT)]],
    [[(R5_CNN_NLS_X, R5_CNN_NLS_Y), (R5_CNN_NLSUB_X, R5_CNN_NLSUB_Y), (R5_CNN_CDAT_X, R5_CNN_CDAT_Y)],
     [(R5_RES_NLS_X, R5_RES_NLS_Y), (R5_RES_NLSUB_X, R5_RES_NLSUB_Y), (R5_RES_CDAT_X, R5_RES_CDAT_Y)],
     [(R5_VGG_NLS_X, R5_VGG_NLS_Y), (R5_VGG_NLSUB_X, R5_VGG_NLSUB_Y), (R5_VGG_CDAT_X, R5_VGG_CDAT_Y)]],
]

# pixel geometry: (left, right, top, bottom, title_y, legend_center_y, xlabel_y, ylabel_x)
GEOM = [
    [(45, 318, 65, 202, 55, 242, 226, 19), (373, 647, 65, 202, 55, 242, 226, 346), (702, 975, 65, 202, 55, 242, 226, 675)],
    [(50, 315, 278, 409, 268, 447, 432, 18), (378, 643, 278, 409, 268, 447, 432, 347), (707, 970, 278, 409, 268, 447, 432, 674)],
    [(50, 315, 483, 614, 473, 652, 637, 17), (379, 643, 483, 614, 473, 652, 637, 346), (707, 970, 483, 614, 473, 652, 637, 674)],
    [(62, 315, 695, 820, 685, 858, 844, 14), (379, 643, 688, 818, 678, 857, 843, 346), (707, 970, 688, 818, 678, 857, 842, 675)],
    [(62, 315, 893, 1020, 882, 1064, 1049, 18), (378, 643, 893, 1020, 882, 1064, 1049, 346), (705, 970, 893, 1020, 882, 1064, 1049, 675)],
]
LEGEND_BOX_W, LEGEND_BOX_H = 200, 15
X_RANGES = [[-63, 5127], [-50, 5065], [-50, 5065], [-55, 5055], [-55, 5055]]
Y_LOG_RANGES = [
    [[-0.105, 1.1875], [-0.099, 1.042], [-0.087, 1.067]],
    [[-1.093, 1.957], [-3.63, 2.0], [-1.985, 1.995]],
    [[-3.0, 3.0], [-3.0, 5.0], [-3.0, 4.0]],
    [[-1.979, -1.038], [-5.53, 0.72], [-5.8, -1.12]],
    [[0.573, 1.97], [0.35, 2.005], [0.573, 2.005]],
]


def sup(e):
    s = str(e).replace("-", "\u2212")
    return f"10<sup>{s}</sup>"


def decade_ticks(lo, hi):
    vals, texts = [], []
    for e in range(math.ceil(lo - 1e-9), math.floor(hi + 1e-9) + 1):
        vals.append(10 ** e)
        texts.append(sup(e))
    return vals, texts


def minor_ticks(lo, hi, skip=()):
    out = []
    for e in range(math.floor(lo) - 1, math.ceil(hi) + 1):
        for m in range(2, 10):
            v = m * 10 ** e
            if lo <= math.log10(v) <= hi and not any(abs(v - s) < 1e-12 for s in skip):
                out.append(v)
    return out


fig = go.Figure()
annotations = []
shapes = [dict(type="line", xref="paper", yref="paper", x0=0, x1=1,
               y0=1 - 26 / H, y1=1 - 26 / H, line=dict(color="black", width=2))]
layout = {}
TICKFONT = dict(family=FONT, size=8, color="#222")
LABELFONT = dict(family=FONT, size=11.5, color="#111")

idx = 0
for r in range(5):
    for c in range(3):
        idx += 1
        L, R, T, B, TY, LY, XLY, YLX = GEOM[r][c]
        xa = "x" if idx == 1 else f"x{idx}"
        ya = "y" if idx == 1 else f"y{idx}"
        leg = "legend" if idx == 1 else f"legend{idx}"
        for name, color, (xs, ys) in zip(SERIES_NAMES, SERIES_COLORS, SERIES[r][c]):
            fig.add_trace(go.Scatter(x=xs, y=ys, mode="lines", name=name,
                                     line=dict(color=color, width=1.3),
                                     xaxis=xa, yaxis=ya, legend=leg, hoverinfo="skip"))
        ylo, yhi = Y_LOG_RANGES[r][c]
        tickfont = TICKFONT
        if r == 0:
            xs0 = SERIES[r][c][0][0]
            fig.add_trace(go.Scatter(x=[xs0[0], xs0[-1]], y=[EOS_LEVEL, EOS_LEVEL], mode="lines",
                                     line=dict(color="#b848c8", width=2.6, dash="9px,5px"),
                                     xaxis=xa, yaxis=ya, showlegend=False, hoverinfo="skip"))
            fig.add_trace(go.Scatter(x=[xs0[0], xs0[-1]], y=[ONE_MINUS_C, ONE_MINUS_C], mode="lines",
                                     line=dict(color="#333333", width=2.6, dash="9px,5px"),
                                     xaxis=xa, yaxis=ya, showlegend=False, hoverinfo="skip"))
            tv, tt = [ONE_MINUS_C, EOS_LEVEL, 10], ["1-c", "2", "10"]
            mv = minor_ticks(ylo, yhi, skip=(2,))
        elif r == 2:
            fig.add_trace(go.Scatter(x=X_RANGES[r], y=[TWO_OVER_K, TWO_OVER_K], mode="lines",
                                     line=dict(color="#ffd866", width=1.2, dash="4px,2px"),
                                     xaxis=xa, yaxis=ya, showlegend=False, hoverinfo="skip"))
            tv, tt = decade_ticks(ylo, yhi)
            tv, tt = tv + [TWO_OVER_K], tt + ["2/K"]
            mv = minor_ticks(ylo, yhi)
        elif r == 3 and c == 0:
            tv = [0.02, 0.03, 0.04, 0.06]
            tt = [f"{m}\u2009\u00d7\u200910<sup>\u22122</sup>" for m in (2, 3, 4, 6)]
            mv = minor_ticks(ylo, yhi, skip=tuple(tv))
            tickfont = dict(family=FONT, size=7.5, color="#222")
        else:
            tv, tt = decade_ticks(ylo, yhi)
            mv = minor_ticks(ylo, yhi)

        layout["xaxis" if idx == 1 else f"xaxis{idx}"] = dict(
            domain=[L / W, R / W], anchor=ya, range=X_RANGES[r],
            tickvals=ITER_TICKS, ticktext=[str(v) for v in ITER_TICKS],
            showline=True, linecolor="black", linewidth=1, ticks="outside", ticklen=4,
            tickcolor="black", showgrid=False, zeroline=False, tickfont=TICKFONT)
        layout["yaxis" if idx == 1 else f"yaxis{idx}"] = dict(
            domain=[1 - B / H, 1 - T / H], anchor=xa, type="log", range=[ylo, yhi],
            tickvals=tv, ticktext=tt,
            showline=True, linecolor="black", linewidth=1, ticks="outside",
            ticklen=2 if (r == 3 and c == 0) else 4,
            tickcolor="black", showgrid=False, zeroline=False, tickfont=tickfont,
            minor=dict(tickvals=mv, ticks="outside", ticklen=2, tickcolor="black", showgrid=False))
        cx = (L + R) / 2
        layout[leg] = dict(x=cx / W, y=1 - LY / H, xanchor="center", yanchor="middle",
                           orientation="h", bgcolor="rgba(255,255,255,0)", borderwidth=0,
                           font=dict(family=FONT, size=8, color="#222"), itemwidth=30,
                           tracegroupgap=0)
        shapes.append(dict(type="rect", xref="paper", yref="paper", layer="below",
                           x0=(cx - LEGEND_BOX_W / 2) / W, x1=(cx + LEGEND_BOX_W / 2) / W,
                           y0=1 - (LY - LEGEND_BOX_H / 2) / H, y1=1 - (LY + LEGEND_BOX_H / 2) / H,
                           line=dict(color="#d0d0d0", width=1), fillcolor="white"))
        annotations.append(dict(text=f"EMNIST - {MODELS[c]}", x=cx / W, y=1 - TY / H,
                                xref="paper", yref="paper", xanchor="center", yanchor="middle",
                                showarrow=False, font=dict(family=FONT, size=13.5, color="#111")))
        annotations.append(dict(text=X_LABEL, x=cx / W, y=1 - XLY / H,
                                xref="paper", yref="paper", xanchor="center", yanchor="middle",
                                showarrow=False, borderpad=0, font=LABELFONT))
        annotations.append(dict(text=Y_LABELS[r], x=YLX / W, y=1 - (T + B) / 2 / H,
                                xref="paper", yref="paper", xanchor="center", yanchor="middle",
                                textangle=-90, showarrow=False, borderpad=0, font=LABELFONT))

annotations.append(dict(text=f"<b>{MAIN_TITLE}</b>", x=0.5, y=1 - 12 / H, xref="paper", yref="paper",
                        xanchor="center", yanchor="middle", showarrow=False,
                        font=dict(family="Liberation Serif", size=18, color="black")))

fig.update_layout(
    width=W, height=H, autosize=False,
    margin=dict(l=0, r=0, t=0, b=0),
    paper_bgcolor="white", plot_bgcolor="white",
    font=dict(family=FONT, color="#222"),
    annotations=annotations,
    shapes=shapes,
    **layout,
)

fig.write_html("out.html")
